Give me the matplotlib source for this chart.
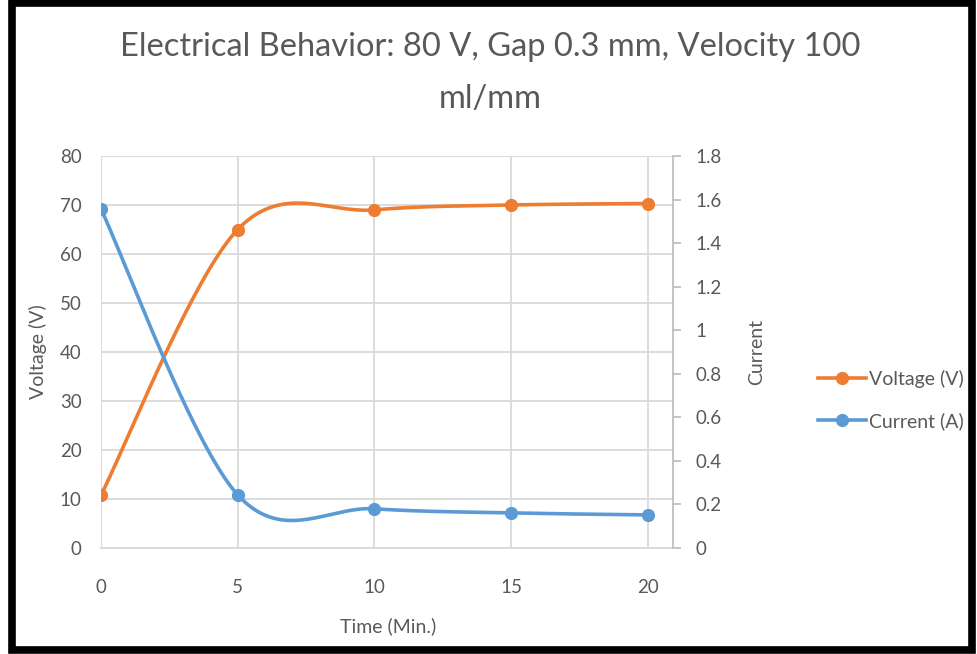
import numpy as np
import matplotlib
matplotlib.use("Agg")
import matplotlib.pyplot as plt
from matplotlib.lines import Line2D
from matplotlib.patches import Rectangle

plt.rcParams['font.family'] = ['Lato', 'DejaVu Sans']

time_min = [0, 5, 10, 15, 20]
voltage = [10.8, 65.0, 69.0, 70.0, 70.3]
current = [1.556, 0.244, 0.18, 0.161, 0.152]

title_line1 = "Electrical Behavior: 80 V, Gap 0.3 mm, Velocity 100"
title_line2 = "ml/mm"
x_label = "Time (Min.)"
y_left_label = "Voltage (V)"
y_right_label = "Current"
x_ticks = [0, 5, 10, 15, 20]
left_ticks = [0, 10, 20, 30, 40, 50, 60, 70, 80]
right_ticks = [0, 0.2, 0.4, 0.6, 0.8, 1, 1.2, 1.4, 1.6, 1.8]
right_tick_labels = ["0", "0.2", "0.4", "0.6", "0.8", "1", "1.2", "1.4", "1.6", "1.8"]

ORANGE = "#ED7D31"
BLUE = "#5B9BD5"
GRID = "#D9D9D9"
TEXT = "#595959"


def smooth(xs, ys, n=40):
    xs = np.asarray(xs, float)
    ys = np.asarray(ys, float)
    px = np.concatenate([[xs[0]], xs, [xs[-1]]])
    py = np.concatenate([[ys[0]], ys, [ys[-1]]])
    ox, oy = [], []
    t = np.linspace(0, 1, n)
    for i in range(1, len(px) - 2):
        x0, y0 = px[i], py[i]
        x3, y3 = px[i + 1], py[i + 1]
        x1 = x0 + (px[i + 1] - px[i - 1]) / 6
        y1 = y0 + (py[i + 1] - py[i - 1]) / 6
        x2 = x3 - (px[i + 2] - px[i]) / 6
        y2 = y3 - (py[i + 2] - py[i]) / 6
        bx = (1 - t) ** 3 * x0 + 3 * (1 - t) ** 2 * t * x1 + 3 * (1 - t) * t ** 2 * x2 + t ** 3 * x3
        by = (1 - t) ** 3 * y0 + 3 * (1 - t) ** 2 * t * y1 + 3 * (1 - t) * t ** 2 * y2 + t ** 3 * y3
        ox.extend(bx)
        oy.extend(by)
    return np.array(ox), np.array(oy)


W, H = 977, 654
fig = plt.figure(figsize=(W / 100, H / 100), dpi=100)
ax = fig.add_axes([101 / W, 1 - 548 / H, (673 - 101) / W, (548 - 156) / H])
ax2 = ax.twinx()

ax.set_xlim(0, 20.92)
ax.set_ylim(0, 80)
ax2.set_ylim(0, 1.8)

ax.set_xticks(x_ticks)
ax.set_yticks(left_ticks)
ax2.set_yticks(right_ticks)
ax2.set_yticklabels(right_tick_labels)

ax.grid(True, color=GRID, linewidth=1.3)
ax.set_axisbelow(True)

for s in ["top", "left"]:
    ax.spines[s].set_visible(False)
    ax2.spines[s].set_visible(False)
ax.spines["right"].set_visible(False)
ax.spines["bottom"].set_color(GRID)
ax.spines["bottom"].set_linewidth(1.3)
ax2.spines["bottom"].set_visible(False)
ax2.spines["right"].set_color("#BFBFBF")
ax2.spines["right"].set_linewidth(1.3)

ax.tick_params(axis="x", length=0, colors=TEXT, labelsize=13.5, pad=22)
ax.tick_params(axis="y", length=0, colors=TEXT, labelsize=13.5, pad=14)
ax2.tick_params(axis="y", length=6, width=1.3, color="#BFBFBF", labelcolor=TEXT,
                labelsize=13.5, pad=10)

vx, vy = smooth(time_min, voltage)
ax.plot(vx, vy, color=ORANGE, linewidth=2.6, solid_capstyle="round", zorder=3)
ax.plot(time_min, voltage, "o", color=ORANGE, markersize=8.5, zorder=4)

cx, cy = smooth(time_min, current)
ax2.plot(cx, cy, color=BLUE, linewidth=2.6, solid_capstyle="round", zorder=3)
ax2.plot(time_min, current, "o", color=BLUE, markersize=8.5, zorder=4)

fig.text(388 / W, 1 - 626 / H, x_label, ha="center", va="center", color=TEXT, fontsize=14)
fig.text(38 / W, 1 - 352 / H, y_left_label, ha="center", va="center", color=TEXT,
         fontsize=14, rotation=90)
fig.text(757 / W, 1 - 352 / H, y_right_label, ha="center", va="center", color=TEXT,
         fontsize=14, rotation=90)

fig.text(490 / W, 1 - 47 / H, title_line1, ha="center", va="center", fontsize=23.5, color=TEXT)
fig.text(490 / W, 1 - 99 / H, title_line2, ha="center", va="center", fontsize=23.5, color=TEXT)

handles = [
    Line2D([0], [0], color=ORANGE, linewidth=2.6, marker="o", markersize=8.5),
    Line2D([0], [0], color=BLUE, linewidth=2.6, marker="o", markersize=8.5),
]
fig.legend(handles, ["Voltage (V)", "Current (A)"], loc="center left",
           bbox_to_anchor=(800 / W, 1 - 400 / H), frameon=False, fontsize=14,
           labelcolor=TEXT, handlelength=2.5, handletextpad=0.15, labelspacing=1.25)

fig.patches.append(Rectangle((11.5 / W, 4 / H), (972 - 11.5) / W, (651 - 4) / H,
                             transform=fig.transFigure, fill=False,
                             edgecolor="black", linewidth=5.5))

fig.savefig("out.png", dpi=100)
